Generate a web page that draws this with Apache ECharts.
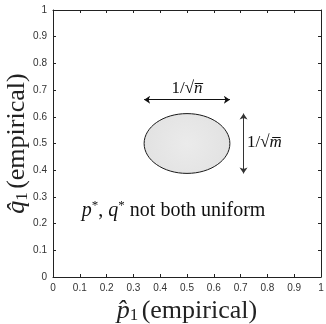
<!DOCTYPE html>
<html><head><meta charset="utf-8">
<script src="https://cdn.jsdelivr.net/npm/echarts@6/dist/echarts.min.js"></script>
<style>html,body{margin:0;padding:0;background:#fff}#c{width:326px;height:324px}</style>
</head><body><div id="c"></div>
<script>
// ---- data ----
const axisMin = 0, axisMax = 1, axisStep = 0.1;
const ellipseCenter = [0.5, 0.5];
const ellipseRadii = [0.16, 0.112];
const arrowH = [[0.34, 0.664], [0.66, 0.664]];
const arrowV = [[0.711, 0.612], [0.711, 0.388]];
const labelN = {pos: [0.5, 0.707], text: '1/√', v: 'n'};
const labelM = {pos: [0.724, 0.503], text: '1/√', v: 'm'};
const mainText = {pos: [0.45, 0.25]};
const xName = 'p̂';
const yName = 'q̂';

const serif = 'Liberation Serif';
const chart = echarts.init(document.getElementById('c'), null, {renderer: 'canvas'});
const axisCommon = {
  type: 'value', min: axisMin, max: axisMax, interval: axisStep,
  axisLine: {show: true, onZero: false, lineStyle: {color: '#222', width: 1}},
  axisTick: {show: true, inside: true, length: 3, lineStyle: {color: '#222'}},
  splitLine: {show: false}
};
const nameRich = {
  i: {fontFamily: serif, fontStyle: 'italic', fontSize: 26, color: '#222'},
  s: {fontFamily: serif, fontSize: 17, color: '#222', padding: [10, 0, 0, 0]},
  t: {fontFamily: serif, fontSize: 26, color: '#222'}
};
const tickLabel = {color: '#333', fontSize: 10, fontFamily: 'Liberation Sans', margin: 6};
chart.setOption({
  animation: false,
  grid: {left: 53, right: 5, top: 10, bottom: 47, containLabel: false, outerBoundsMode: 'none'},
  xAxis: [
    Object.assign({}, axisCommon, {
      position: 'bottom', axisLabel: tickLabel,
      name: '{i|' + xName + '}{s|1} {t|(empirical)}', nameLocation: 'middle', nameGap: 19,
      nameTextStyle: {rich: nameRich}
    }),
    Object.assign({}, axisCommon, {position: 'top', axisLabel: {show: false}})
  ],
  yAxis: [
    Object.assign({}, axisCommon, {
      position: 'left', axisLabel: tickLabel,
      name: '{i|' + yName + '}{s|1} {t|(empirical)}', nameLocation: 'middle', nameGap: 22,
      nameMoveOverlap: false,
      nameTextStyle: {rich: nameRich}
    }),
    Object.assign({}, axisCommon, {position: 'right', axisLabel: {show: false}})
  ],
  series: [
    {
      type: 'custom', xAxisIndex: 0, yAxisIndex: 0,
      data: [[ellipseCenter[0], ellipseCenter[1], ellipseRadii[0], ellipseRadii[1]]],
      renderItem: function (params, api) {
        const c = api.coord([api.value(0), api.value(1)]);
        const e = api.coord([api.value(0) + api.value(2), api.value(1) + api.value(3)]);
        return {
          type: 'ellipse',
          shape: {cx: c[0], cy: c[1], rx: Math.abs(e[0] - c[0]), ry: Math.abs(c[1] - e[1])},
          style: {
            fill: new echarts.graphic.RadialGradient(0.5, 0.5, 0.7, [
              {offset: 0, color: '#ebebeb'}, {offset: 1, color: '#e2e2e2'}]),
            stroke: '#1a1a1a', lineWidth: 1
          }
        };
      }
    },
    {
      type: 'lines', coordinateSystem: 'cartesian2d', xAxisIndex: 0, yAxisIndex: 0,
      symbol: ['arrow', 'arrow'], symbolSize: 6,
      lineStyle: {color: '#111', width: 1, opacity: 1},
      data: [{coords: arrowH}, {coords: arrowV, lineStyle: {color: '#333'}}]
    },
    {
      type: 'custom', xAxisIndex: 0, yAxisIndex: 0,
      data: [[labelN.pos[0], labelN.pos[1], 0], [labelM.pos[0], labelM.pos[1], 1], [mainText.pos[0], mainText.pos[1], 2]],
      renderItem: function (params, api) {
        const p = api.coord([api.value(0), api.value(1)]);
        const k = api.value(2);
        const rich = {
          r: {fontFamily: serif, fontSize: 17, fill: '#111'},
          i: {fontFamily: serif, fontStyle: 'italic', fontSize: 17, fill: '#111'},
          m: {fontFamily: serif, fontStyle: 'italic', fontSize: 20, fill: '#111'},
          sup: {fontFamily: serif, fontSize: 13, fill: '#111', padding: [0, 0, 9, 0]},
          t: {fontFamily: serif, fontSize: 20, fill: '#111'}
        };
        let txt, align;
        if (k === 0) { txt = '{r|' + labelN.text + '}{i|' + labelN.v + '\u0305}'; align = 'center'; }
        else if (k === 1) { txt = '{r|' + labelM.text + '}{i|' + labelM.v + '\u0305}'; align = 'left'; }
        else { txt = '{m|p}{sup|*}{t|, }{m|q}{sup|*}{t| not both uniform}'; align = 'center'; }
        return {
          type: 'text', x: p[0], y: p[1],
          style: {text: txt, rich: rich, align: align, verticalAlign: 'middle'}
        };
      }
    }
  ]
});
</script></body></html>
